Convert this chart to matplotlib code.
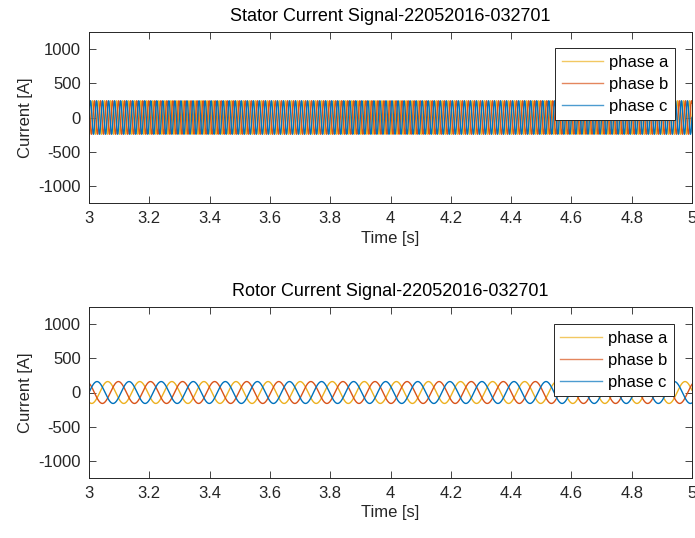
import numpy as np
import matplotlib
matplotlib.use("Agg")
import matplotlib.pyplot as plt

plt.rcParams['font.family'] = ['Liberation Sans', 'DejaVu Sans']

# ---- data ----
phase_labels = ['phase a', 'phase b', 'phase c']
phase_colors = ['#EDB120', '#D95319', '#0072BD']
phase_shift_deg = [-120, 120, 0]          # a, b, c relative phase angles

t_start, t_end = 3.0, 5.0
sample_rate = 5000                          # samples per second

stator_amp = 245.0                          # A
stator_freq = 50.0                          # Hz
rotor_amp = 160.0                           # A
rotor_freq = 9.4                            # Hz

x_ticks = [3, 3.2, 3.4, 3.6, 3.8, 4, 4.2, 4.4, 4.6, 4.8, 5]
x_tick_labels = ['3', '3.2', '3.4', '3.6', '3.8', '4', '4.2', '4.4', '4.6', '4.8', '5']
y_ticks = [-1000, -500, 0, 500, 1000]
y_tick_labels = ['-1000', '-500', '0', '500', '1000']
y_limits = (-1250, 1250)

titles = ['Stator Current Signal-22052016-032701', 'Rotor Current Signal-22052016-032701']

# ---- figure ----
W, H = 695, 538
fig = plt.figure(figsize=(W / 100, H / 100), dpi=100)
ax_left = 89 / W
ax_w = (692 - 89) / W
ax_h = 171 / H
ax1 = fig.add_axes([ax_left, (H - 203) / H, ax_w, ax_h])
ax2 = fig.add_axes([ax_left, (H - 478) / H, ax_w, ax_h])

t = np.arange(t_start, t_end + 1e-9, 1.0 / sample_rate)
dark = '#262626'

def draw(ax, amp, freq, title, leg_anchor):
    for lab, col, ph in zip(phase_labels, phase_colors, phase_shift_deg):
        y = amp * np.sin(2 * np.pi * freq * (t - t_start) + np.deg2rad(ph))
        ax.plot(t, y, color=col, lw=1.0, label=lab)
    ax.set_xlim(t_start, t_end)
    ax.set_ylim(*y_limits)
    ax.set_xticks(x_ticks)
    ax.set_xticklabels(x_tick_labels)
    ax.set_yticks(y_ticks)
    ax.set_yticklabels(y_tick_labels)
    ax.tick_params(direction='in', length=5, width=0.6, colors=dark,
                   labelsize=12, top=True, right=True, pad=6)
    for s in ax.spines.values():
        s.set_color(dark)
        s.set_linewidth(0.7)
    ax.set_title(title, fontsize=13, color='#000000', pad=8)
    ax.set_xlabel('Time [s]', fontsize=12, color=dark, labelpad=3)
    ax.set_ylabel('Current [A]', fontsize=12, color=dark, labelpad=4)
    leg = ax.legend(loc='upper right', bbox_to_anchor=leg_anchor, borderaxespad=0,
                    fontsize=12, frameon=True, fancybox=False, framealpha=1,
                    edgecolor=dark, handlelength=2.5, handletextpad=0.35,
                    borderpad=0.4, labelspacing=0.42)
    leg.get_frame().set_linewidth(0.7)
    for line in leg.get_lines():
        line.set_linewidth(1.0)
        line.set_alpha(0.7)

draw(ax1, stator_amp, stator_freq, titles[0], (0.972, 0.906))
draw(ax2, rotor_amp, rotor_freq, titles[1], (0.970, 0.900))

fig.savefig('out.png', dpi=100)
